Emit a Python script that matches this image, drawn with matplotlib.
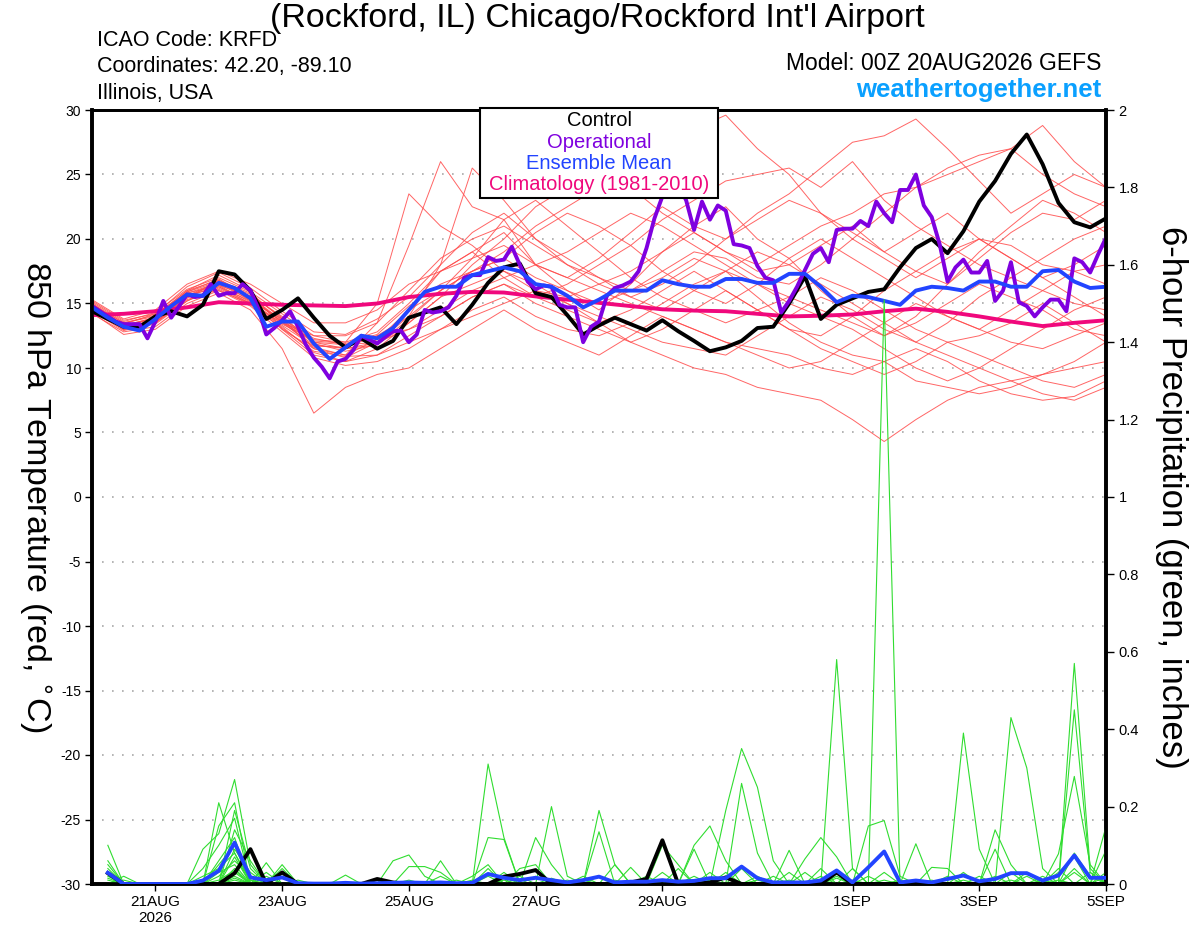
import numpy as np
import matplotlib
matplotlib.use("Agg")
import matplotlib.pyplot as plt
from matplotlib.patches import Rectangle
from matplotlib.ticker import FormatStrFormatter

plt.rcParams["font.family"] = ["Liberation Sans", "DejaVu Sans"]
plt.rcParams["axes.unicode_minus"] = False

# forecast hours from 00Z 20AUG2026
hours3 = np.arange(0, 385, 3)
hours6 = np.arange(0, 385, 6)
hours12 = np.arange(0, 385, 12)
hours_pcp = np.arange(6, 385, 6)

tick_hours = [24, 72, 120, 168, 216, 288, 336, 384]
tick_labels = ["21AUG\n2026", "23AUG", "25AUG", "27AUG", "29AUG", "1SEP", "3SEP", "5SEP"]

# 850 hPa temperature (C), control run, 6-hourly
control_t = [14.4, 13.8, 13.2, 13.2, 14.0, 14.4, 14.0, 14.9, 17.5, 17.25,
             16.0, 13.8, 14.5, 15.4, 13.9, 12.5, 11.6, 12.3, 11.5, 12.1,
             13.9, 14.3, 14.7, 13.4, 14.9, 16.6, 17.8, 18.1, 15.8, 15.5,
             14.1, 12.6, 13.3, 13.9, 13.4, 12.9, 13.7, 12.85, 12.1, 11.3,
             11.6, 12.1, 13.1, 13.2, 15.0, 17.1, 13.8, 14.9, 15.4, 15.9,
             16.1, 17.8, 19.3, 20.0, 18.9, 20.6, 22.9, 24.5, 26.6, 28.1,
             25.8, 22.8, 21.3, 20.9, 21.6]

# ensemble mean, 6-hourly
mean_t = [14.7, 13.9, 13.2, 12.9, 13.8, 14.8, 15.7, 15.6, 16.6, 16.2,
          15.4, 13.2, 13.6, 13.6, 11.9, 10.7, 11.6, 12.5, 12.3, 13.1,
          14.5, 15.9, 16.3, 16.3, 17.2, 17.5, 17.8, 17.5, 16.5, 16.3,
          15.6, 14.7, 15.3, 16.0, 16.0, 16.0, 16.8, 16.5, 16.3, 16.3,
          16.9, 16.9, 16.6, 16.6, 17.3, 17.3, 16.3, 15.1, 15.6, 15.5,
          15.2, 14.9, 16.0, 16.3, 16.2, 16.0, 16.7, 16.7, 16.3, 16.3,
          17.5, 17.6, 16.7, 16.2, 16.3]

# operational run, 3-hourly
oper_t = [14.8, 14.4, 14.0, 13.6, 13.4, 13.4, 13.4, 12.3, 13.6, 15.2,
          13.9, 14.8, 15.7, 15.5, 15.6, 16.5, 15.6, 15.8, 15.8, 16.5,
          16.0, 14.6, 12.6, 13.1, 13.7, 14.4, 13.2, 11.8, 10.8, 10.1,
          9.2, 10.5, 10.7, 11.4, 12.5, 12.2, 11.9, 12.4, 12.85, 12.9,
          12.0, 12.6, 14.5, 14.3, 14.4, 14.7, 15.6, 17.0, 17.2, 17.2,
          18.6, 18.3, 18.4, 19.4, 18.0, 16.7, 16.1, 16.4, 16.3, 14.9,
          14.7, 14.7, 12.0, 13.2, 13.6, 15.6, 16.2, 16.4, 16.7, 17.5,
          19.3, 21.6, 23.3, 24.6, 24.2, 23.0, 20.7, 22.9, 21.5, 22.6,
          22.2, 19.6, 19.5, 19.3, 17.9, 17.0, 16.8, 14.3, 15.2, 16.3,
          17.6, 18.85, 19.3, 18.2, 20.7, 20.8, 20.8, 21.4, 21.0, 22.9,
          22.0, 21.3, 23.8, 23.8, 25.0, 22.6, 21.7, 19.6, 16.7, 17.8,
          18.4, 17.4, 17.4, 18.3, 15.2, 16.0, 18.2, 15.1, 14.8, 14.0,
          14.7, 15.3, 15.3, 14.4, 18.5, 18.2, 17.4, 18.8, 20.1]

# 1981-2010 climatology, 12-hourly
clim_t = [14.1, 14.2, 14.4, 14.7, 15.1, 15.0, 14.9, 14.85, 14.8, 15.0,
          15.5, 15.75, 15.9, 15.85, 15.55, 15.3, 15.05, 14.8, 14.55, 14.45,
          14.4, 14.2, 14.0, 14.05, 14.15, 14.4, 14.6, 14.35, 14.0, 13.6,
          13.25, 13.5, 13.7]

# ensemble members, 12-hourly
mem01 = [15.0, 13.5, 14.0, 16.0, 17.2, 16.0, 13.0, 11.5, 11.0, 13.5, 19.5, 26.0, 22.5, 21.5, 18.0, 16.0, 14.5,
         16.5, 19.0, 21.0, 22.5, 20.0, 18.5, 16.0, 14.0, 12.5, 14.0, 16.5, 19.0, 21.0, 23.0, 22.0, 20.5]
mem02 = [14.5, 13.0, 13.5, 15.5, 16.0, 15.0, 13.5, 12.5, 12.0, 15.0, 23.5, 21.0, 19.5, 17.5, 16.5, 15.0, 13.5,
         12.0, 13.0, 14.5, 16.0, 14.5, 13.0, 11.5, 10.5, 9.5, 10.5, 12.0, 11.0, 10.0, 9.0, 8.5, 9.5]
mem03 = [14.8, 13.4, 14.2, 15.8, 16.4, 15.6, 14.0, 12.0, 11.5, 12.0, 14.0, 18.0, 25.5, 23.0, 20.0, 18.5, 17.0,
         15.5, 14.5, 16.0, 17.5, 19.0, 18.0, 16.5, 15.0, 13.5, 12.0, 13.5, 15.5, 17.0, 18.5, 20.0, 21.0]
mem04 = [14.6, 13.0, 13.6, 15.4, 16.8, 15.8, 13.8, 11.5, 10.8, 12.0, 14.5, 16.0, 17.5, 19.0, 21.0, 22.5, 24.0,
         26.5, 27.5, 28.5, 29.6, 27.0, 25.0, 22.0, 20.0, 18.5, 17.0, 18.5, 20.0, 19.5, 18.0, 17.5, 18.0]
mem05 = [14.9, 13.3, 13.9, 15.9, 16.7, 15.2, 13.4, 12.2, 12.0, 12.8, 15.0, 17.5, 19.0, 20.5, 18.0, 17.0, 18.5,
         20.5, 22.5, 21.0, 20.0, 22.0, 23.5, 25.5, 27.5, 28.0, 29.3, 27.0, 24.5, 22.0, 23.5, 25.0, 24.0]
mem06 = [14.4, 12.9, 13.5, 15.2, 16.2, 15.0, 13.2, 11.2, 10.5, 11.5, 13.5, 15.5, 16.5, 17.5, 16.0, 15.5, 16.5,
         17.5, 19.0, 20.5, 19.0, 18.0, 19.5, 21.0, 22.0, 23.5, 24.0, 25.5, 26.5, 27.0, 28.8, 26.0, 24.0]
mem07 = [15.1, 13.6, 14.3, 16.1, 17.0, 15.9, 14.2, 12.5, 12.5, 13.5, 16.0, 18.5, 20.0, 21.0, 19.5, 18.0, 17.0,
         16.0, 17.5, 19.0, 18.5, 17.0, 16.5, 18.0, 20.0, 22.0, 24.0, 25.0, 26.0, 27.0, 25.0, 23.5, 22.5]
mem08 = [14.7, 13.1, 13.7, 15.6, 16.5, 15.3, 13.6, 12.0, 11.8, 12.5, 14.0, 16.0, 17.5, 18.5, 20.5, 22.0, 21.0,
         19.5, 21.5, 23.0, 24.5, 25.0, 25.5, 24.0, 26.0, 23.0, 21.0, 19.5, 18.0, 17.0, 16.0, 15.0, 14.5]
mem09 = [14.3, 12.6, 13.0, 14.8, 15.8, 14.5, 11.5, 6.5, 8.5, 9.5, 10.0, 11.5, 13.0, 14.5, 13.0, 12.0, 11.0,
         12.5, 14.0, 13.0, 12.0, 11.0, 10.0, 10.5, 12.0, 13.5, 15.0, 14.0, 13.0, 12.0, 11.5, 12.5, 13.5]
mem10 = [14.6, 13.2, 13.9, 15.6, 16.3, 15.0, 13.0, 11.0, 10.5, 11.0, 12.5, 14.0, 15.5, 16.5, 15.0, 14.0, 13.0,
         12.0, 11.0, 10.0, 9.5, 8.5, 8.0, 7.5, 6.0, 4.3, 6.0, 7.5, 8.5, 9.0, 9.5, 10.5, 12.0]
mem11 = [15.3, 13.8, 14.5, 16.5, 17.5, 16.5, 15.0, 13.5, 13.5, 14.5, 16.5, 17.5, 18.5, 19.5, 18.0, 17.0, 16.0,
         15.0, 14.0, 13.0, 12.0, 11.5, 11.0, 10.0, 9.5, 10.5, 11.5, 10.5, 9.0, 8.0, 7.5, 7.8, 9.0]
mem12 = [14.5, 13.0, 13.4, 15.2, 16.3, 15.2, 13.8, 12.3, 11.8, 12.0, 13.0, 14.5, 16.0, 17.0, 18.0, 19.0, 20.5,
         22.0, 21.0, 19.5, 18.0, 16.5, 15.0, 14.0, 13.0, 11.5, 10.0, 9.0, 10.0, 11.5, 13.0, 14.5, 15.5]
mem13 = [15.0, 13.3, 13.8, 15.9, 16.9, 15.5, 13.5, 11.8, 11.5, 11.8, 13.5, 15.5, 18.0, 20.0, 22.5, 24.0, 25.5,
         24.0, 22.0, 20.5, 19.0, 17.5, 18.0, 19.5, 21.0, 19.0, 17.5, 16.5, 18.5, 20.5, 22.0, 21.5, 23.0]
mem14 = [14.2, 12.8, 13.2, 15.0, 16.0, 14.8, 12.8, 10.8, 10.2, 10.5, 11.5, 13.0, 14.5, 15.5, 14.0, 13.0, 12.5,
         13.5, 15.0, 16.5, 17.5, 15.5, 13.5, 12.0, 11.0, 10.5, 9.0, 8.5, 8.0, 8.5, 9.5, 10.0, 10.5]
mem15 = [14.9, 13.5, 14.1, 16.0, 16.8, 15.4, 13.6, 11.6, 11.0, 12.2, 14.5, 17.5, 19.0, 17.0, 15.5, 16.5, 18.0,
         19.5, 17.5, 16.0, 15.0, 16.5, 18.5, 20.0, 18.5, 17.0, 15.5, 14.0, 13.0, 14.5, 16.0, 17.5, 16.5]
mem16 = [14.7, 13.0, 13.5, 15.6, 16.7, 15.7, 13.9, 11.9, 11.3, 11.8, 13.8, 16.0, 18.5, 21.5, 23.0, 21.0, 19.0,
         17.0, 15.5, 14.5, 13.5, 14.5, 15.5, 17.0, 16.0, 14.5, 13.0, 12.0, 12.5, 13.5, 15.0, 13.5, 12.0]
mem17 = [14.6, 13.2, 13.7, 15.5, 16.4, 15.1, 13.3, 11.7, 11.6, 12.5, 13.0, 14.0, 15.5, 16.5, 15.5, 14.5, 13.5,
         14.5, 16.0, 17.5, 16.0, 14.5, 13.0, 12.5, 14.0, 16.0, 17.5, 19.0, 20.0, 18.5, 17.0, 15.5, 14.0]
mem18 = [15.2, 13.7, 14.2, 16.3, 17.4, 16.2, 14.4, 12.8, 12.6, 13.8, 15.5, 18.0, 20.5, 22.0, 20.0, 18.0, 16.5,
         15.5, 16.5, 18.0, 20.0, 21.5, 23.0, 22.0, 20.5, 19.0, 20.5, 22.0, 20.0, 18.5, 17.0, 18.0, 19.5]
mem19 = [14.4, 13.1, 13.6, 15.3, 16.1, 14.9, 13.1, 11.3, 10.9, 11.0, 12.0, 13.0, 14.0, 15.0, 16.0, 15.0, 14.0,
         13.0, 12.0, 11.5, 11.0, 12.5, 14.0, 15.5, 14.5, 13.0, 12.0, 11.0, 10.0, 9.0, 8.0, 7.5, 8.5]
mem20 = [14.8, 13.3, 13.9, 15.8, 16.6, 15.5, 13.7, 12.1, 11.9, 12.6, 14.8, 16.5, 17.5, 18.5, 17.0, 16.0, 15.0,
         16.0, 17.0, 18.5, 17.5, 16.5, 15.5, 14.5, 13.5, 12.5, 13.5, 15.0, 16.5, 15.5, 14.5, 13.0, 12.5]

# 6-hour precipitation (inches), control and ensemble mean, hours 6..384
control_p = [0.028, 0, 0, 0, 0, 0, 0, 0, 0.028, 0.09, 0, 0.03, 0, 0, 0, 0,
             0, 0.013, 0.004, 0, 0, 0, 0, 0, 0, 0.019, 0.026, 0.036, 0, 0, 0, 0,
             0, 0.004, 0.013, 0.113, 0, 0, 0.004, 0.017, 0, 0, 0, 0, 0, 0, 0.03, 0,
             0, 0, 0, 0, 0, 0, 0, 0, 0, 0, 0, 0, 0, 0, 0, 0]
mean_p = [0.029, 0, 0, 0, 0, 0, 0.009, 0.034, 0.107, 0.017, 0.01, 0.017, 0.002, 0.001, 0.001, 0.003,
          0.001, 0.002, 0.003, 0.004, 0.003, 0.004, 0.002, 0.003, 0.026, 0.016, 0.01, 0.016, 0.01, 0.004, 0.01, 0.019,
          0.004, 0.006, 0.006, 0.01, 0.006, 0.008, 0.015, 0.015, 0.045, 0.015, 0.004, 0.004, 0.004, 0.009, 0.035, 0.004,
          0.043, 0.084, 0.004, 0.009, 0.004, 0.013, 0.022, 0.007, 0.013, 0.028, 0.028, 0.009, 0.022, 0.074, 0.016, 0.016]

# member precipitation: {6-hour step: inches}, zero elsewhere
pcp01 = {1: 0.10, 7: 0.09, 8: 0.13, 9: 0.27, 10: 0.05, 25: 0.31, 26: 0.12, 40: 0.19, 41: 0.35, 42: 0.25, 43: 0.06}
pcp02 = {1: 0.06, 8: 0.21, 9: 0.08, 12: 0.05, 29: 0.20, 30: 0.02, 47: 0.58, 48: 0.04, 62: 0.57, 63: 0.04}
pcp03 = {2: 0.02, 8: 0.15, 9: 0.21, 11: 0.055, 50: 1.51, 55: 0.39, 56: 0.09}
pcp04 = {1: 0.04, 9: 0.19, 10: 0.04, 19: 0.06, 20: 0.075, 21: 0.02, 32: 0.19, 33: 0.05, 58: 0.43, 59: 0.30, 60: 0.04}
pcp05 = {7: 0.04, 8: 0.10, 9: 0.17, 22: 0.06, 25: 0.12, 26: 0.115, 38: 0.10, 39: 0.15, 40: 0.06, 62: 0.45, 63: 0.03}
pcp06 = {9: 0.14, 10: 0.06, 28: 0.12, 29: 0.05, 32: 0.135, 49: 0.15, 50: 0.164, 51: 0.02, 64: 0.148}
pcp07 = {1: 0.03, 8: 0.06, 9: 0.12, 12: 0.04, 20: 0.045, 21: 0.045, 22: 0.03, 45: 0.065, 46: 0.12, 47: 0.07,
         61: 0.078, 62: 0.278, 63: 0.05}
pcp08 = {9: 0.09, 10: 0.03, 16: 0.023, 24: 0.02, 25: 0.05, 36: 0.10, 37: 0.05, 44: 0.087, 52: 0.104, 57: 0.14, 58: 0.05}
pcp09 = {8: 0.05, 9: 0.10, 27: 0.04, 28: 0.05, 34: 0.043, 38: 0.09, 41: 0.26, 42: 0.08, 53: 0.043, 54: 0.04, 64: 0.087}
pcp10 = {1: 0.02, 9: 0.07, 11: 0.03, 25: 0.04, 31: 0.02, 33: 0.05, 46: 0.04, 48: 0.04, 57: 0.09, 59: 0.02, 61: 0.03, 62: 0.07}
pcp11 = {8: 0.03, 9: 0.05, 23: 0.01, 26: 0.03, 35: 0.02, 40: 0.03, 47: 0.02, 56: 0.02, 62: 0.08, 63: 0.02}
pcp12 = {9: 0.04, 12: 0.02, 30: 0.01, 39: 0.03, 43: 0.02, 50: 0.03, 55: 0.03, 60: 0.02, 64: 0.03}
pcp13 = {1: 0.01, 8: 0.02, 9: 0.06, 10: 0.02, 28: 0.02, 36: 0.03, 42: 0.02, 46: 0.02, 58: 0.03, 61: 0.04}
pcp14 = {9: 0.03, 11: 0.02, 25: 0.02, 32: 0.02, 41: 0.04, 49: 0.02, 54: 0.02, 59: 0.03, 62: 0.04}
pcp15 = {1: 0.05, 7: 0.02, 8: 0.04, 9: 0.08, 10: 0.01, 18: 0.01, 26: 0.02, 37: 0.04, 45: 0.03, 51: 0.01, 63: 0.03}
pcp16 = {9: 0.02, 22: 0.02, 27: 0.02, 33: 0.01, 40: 0.02, 44: 0.03, 53: 0.01, 57: 0.02, 64: 0.02}
pcp17 = {2: 0.01, 8: 0.01, 9: 0.035, 13: 0.01, 29: 0.015, 38: 0.02, 47: 0.015, 55: 0.01, 62: 0.03}
pcp18 = {9: 0.015, 20: 0.01, 31: 0.01, 42: 0.01, 48: 0.01, 60: 0.01}
pcp19 = {1: 0.015, 10: 0.01, 24: 0.01, 35: 0.01, 44: 0.01, 52: 0.01, 61: 0.01}
pcp20 = {9: 0.01, 26: 0.01, 39: 0.01, 50: 0.01, 58: 0.01}

members_t = [mem01, mem02, mem03, mem04, mem05, mem06, mem07, mem08, mem09, mem10,
             mem11, mem12, mem13, mem14, mem15, mem16, mem17, mem18, mem19, mem20]
members_p = [pcp01, pcp02, pcp03, pcp04, pcp05, pcp06, pcp07, pcp08, pcp09, pcp10,
             pcp11, pcp12, pcp13, pcp14, pcp15, pcp16, pcp17, pcp18, pcp19, pcp20]

c_red = "#ff4a4a"
c_green = "#30dd30"
c_purple = "#7f00df"
c_blue = "#2244ff"
c_pink = "#f0087c"

fig = plt.figure(figsize=(12, 9.27), dpi=100)
ax = fig.add_axes([92 / 1200, 1 - 884 / 927, 1014 / 1200, 774 / 927])
ax2 = ax.twinx()

for y in range(-25, 30, 5):
    ax.axhline(y, color="#a8a8a8", lw=1.2, ls=(0, (1, 5)), zorder=1)

for m in members_t:
    ax.plot(hours12, m, color=c_red, lw=0.7, alpha=0.85, zorder=2)
ax.plot(hours12, clim_t, color=c_pink, lw=2.8, zorder=4)
ax.plot(hours6, control_t, color="black", lw=2.8, zorder=5)
ax.plot(hours3, oper_t, color=c_purple, lw=2.8, zorder=6)
ax.plot(hours6, mean_t, color=c_blue, lw=2.8, zorder=7)

for d in members_p:
    vals = np.zeros(len(hours_pcp))
    for k, v in d.items():
        vals[k - 1] = v
    ax2.plot(hours_pcp, vals, color=c_green, lw=0.8, zorder=2)
ax2.plot(hours_pcp, control_p, color="black", lw=2.8, zorder=5)
ax2.plot(hours_pcp, mean_p, color=c_blue, lw=2.8, zorder=6)

ax.set_xlim(0, 384)
ax.set_ylim(-30, 30)
ax2.set_ylim(0, 2)
ax.set_yticks(range(-30, 31, 5))
ax2.set_yticks(np.arange(0, 2.01, 0.2))
ax2.yaxis.set_major_formatter(FormatStrFormatter("%g"))
ax.set_xticks(tick_hours)
ax.set_xticklabels(tick_labels)

ax.tick_params(axis="y", direction="out", length=5, width=1, labelsize=10, pad=3)
ax2.tick_params(axis="y", direction="out", length=6, width=1, labelsize=10.5, pad=3)
ax.tick_params(axis="x", direction="out", length=5, width=1, labelsize=11, pad=3)
for a in (ax, ax2):
    for s in a.spines.values():
        s.set_linewidth(2.6)
    a.spines["top"].set_linewidth(2.0)

ax.set_ylabel("850 hPa Temperature (red, $^{\\circ}$C)", fontsize=24.5, rotation=270,
              va="center", ha="center")
ax.yaxis.set_label_coords(-0.057, 0.5)
ax2.set_ylabel("6-hour Precipitation (green, inches)", fontsize=25, rotation=270,
               va="center", ha="center")
ax2.yaxis.set_label_coords(1.065, 0.5)

# legend box
box = Rectangle((0.383, 0.886), 0.234, 0.117, transform=ax.transAxes, facecolor="white",
                edgecolor="black", lw=1.5, zorder=20, clip_on=False)
ax2.add_patch(box)
leg_items = [("Control", "black"), ("Operational", c_purple),
             ("Ensemble Mean", c_blue), ("Climatology (1981-2010)", c_pink)]
for n, (txt, col) in enumerate(leg_items):
    ax2.text(0.5, 0.986 - n * 0.0275, txt, transform=ax.transAxes, color=col, fontsize=14.5,
             ha="center", va="center", zorder=21)

fig.text(0.4975, 0.980, "(Rockford, IL) Chicago/Rockford Int'l Airport", fontsize=24.5,
         ha="center", va="center")
fig.text(0.081, 0.956, "ICAO Code: KRFD", fontsize=15.5, ha="left", va="center")
fig.text(0.081, 0.928, "Coordinates: 42.20, -89.10", fontsize=15.5, ha="left", va="center")
fig.text(0.081, 0.899, "Illinois, USA", fontsize=15.5, ha="left", va="center")
fig.text(0.918, 0.931, "Model: 00Z 20AUG2026 GEFS", fontsize=16.5, ha="right", va="center")
fig.text(0.918, 0.903, "weathertogether.net", fontsize=18.5, ha="right", va="center",
         color="#0aa0ff", fontweight="bold")

fig.savefig("out.png", dpi=100)
